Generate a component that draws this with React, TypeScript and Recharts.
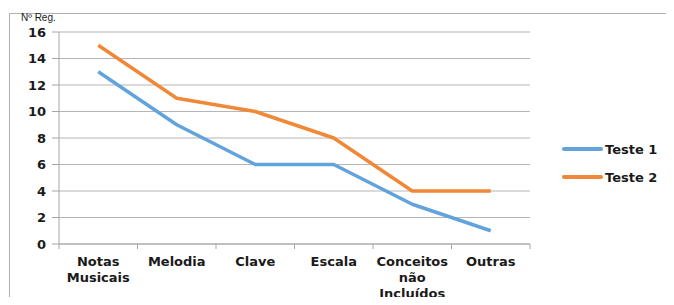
import React from "react";
import { LineChart, Line, XAxis, YAxis, CartesianGrid } from "recharts";

const categories = [
  ["Notas", "Musicais"],
  ["Melodia"],
  ["Clave"],
  ["Escala"],
  ["Conceitos", "não", "Incluídos"],
  ["Outras"],
];
const teste1 = [13, 9, 6, 6, 3, 1];
const teste2 = [15, 11, 10, 8, 4, 4];
const yTicks = [0, 2, 4, 6, 8, 10, 12, 14, 16];

const BLUE = "#62A3DC";
const ORANGE = "#F08838";
const FONT = "'DejaVu Sans', sans-serif";

const data = categories.map((c, i) => ({ x: i + 0.5, t1: teste1[i], t2: teste2[i] }));
const xTicks = Array.from({ length: categories.length * 2 + 1 }, (_, i) => i / 2);

function XTick(props: any) {
  const { x, y, payload } = props;
  const v = payload.value as number;
  if (Number.isInteger(v)) {
    return <line x1={x} y1={y} x2={x} y2={y + 5} stroke="#a6a6a6" strokeWidth={1} />;
  }
  const lines = categories[Math.floor(v)];
  return (
    <g>
      {lines.map((l, i) => (
        <text
          key={i}
          x={x}
          y={y + 22 + i * 16}
          textAnchor="middle"
          fontFamily={FONT}
          fontWeight={700}
          fontSize={13}
          fill="#1a1a1a"
        >
          {l}
        </text>
      ))}
    </g>
  );
}

function LegendBox() {
  const items = [
    { name: "Teste 1", color: BLUE },
    { name: "Teste 2", color: ORANGE },
  ];
  return (
    <div style={{ fontFamily: FONT, fontWeight: 700, fontSize: 13, color: "#1a1a1a" }}>
      {items.map((it) => (
        <div key={it.name} style={{ display: "flex", alignItems: "center", height: 28 }}>
          <span style={{ display: "inline-block", width: 41, height: 4, borderRadius: 2, background: it.color, marginRight: 2 }} />
          <span>{it.name}</span>
        </div>
      ))}
    </div>
  );
}

export default function App() {
  return (
    <div style={{ position: "relative", width: 674, height: 305, margin: -8, background: "#fff", overflow: "hidden" }}>
      <div
        style={{
          position: "absolute",
          left: 9,
          top: 13,
          width: 664,
          height: 300,
          borderTop: "1.5px solid #b0b0b0",
          borderLeft: "1.5px solid #b0b0b0",
        }}
      />
      <div
        style={{
          position: "absolute",
          left: 21,
          top: 13,
          height: 9,
          lineHeight: "9px",
          fontFamily: "'Liberation Sans', Arial, sans-serif",
          fontSize: 10,
          color: "#1a1a1a",
        }}
      >
        Nº Reg.
      </div>
      <div style={{ position: "absolute", top: 0, left: 0 }}>
        <LineChart width={674} height={305} data={data} margin={{ top: 32, right: 144, left: 0, bottom: 1 }}>
          <CartesianGrid vertical={false} stroke="#b5b5b5" />
          <XAxis
            dataKey="x"
            type="number"
            domain={[0, categories.length]}
            ticks={xTicks}
            interval={0}
            height={60}
            tickLine={false}
            tickSize={0}
            tickMargin={0}
            stroke="#a6a6a6"
            tick={<XTick />}
          />
          <YAxis
            domain={[0, 16]}
            ticks={yTicks}
            interval={0}
            width={59}
            tickSize={7}
            tickMargin={6}
            stroke="#a6a6a6"
            tick={{ fontFamily: FONT, fontWeight: 700, fontSize: 13, fill: "#1a1a1a" }}
          />
          <Line dataKey="t1" name="Teste 1" stroke={BLUE} strokeWidth={3.5} dot={false} isAnimationActive={false} strokeLinejoin="round" />
          <Line dataKey="t2" name="Teste 2" stroke={ORANGE} strokeWidth={3.5} dot={false} isAnimationActive={false} strokeLinejoin="round" />
        </LineChart>
      </div>
      <div style={{ position: "absolute", left: 562, top: 135 }}>
        <LegendBox />
      </div>
    </div>
  );
}
